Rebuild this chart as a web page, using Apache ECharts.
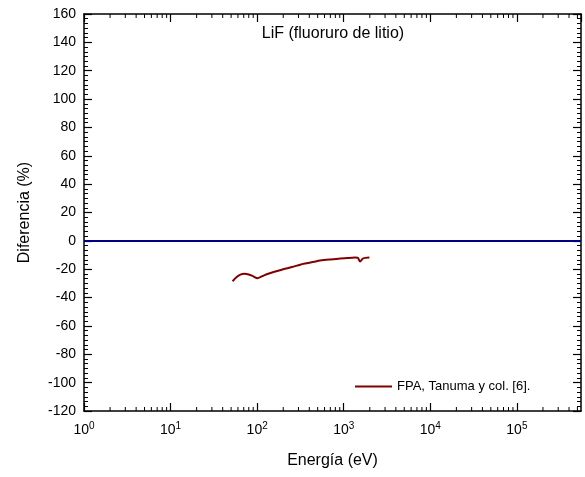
<!DOCTYPE html>
<html>
<head>
<meta charset="utf-8">
<script src="https://cdn.jsdelivr.net/npm/echarts@6/dist/echarts.min.js"></script>
<style>html,body{margin:0;padding:0;background:#fff;}#c{width:585px;height:477px;}</style>
</head>
<body>
<div id="c"></div>
<script>
// Data
const energy = [52, 58, 64, 71, 80, 90, 101, 120, 140, 162, 200, 252, 314, 359, 450, 534, 700, 908, 1100, 1352, 1450, 1545, 1650, 1766, 1978];
const diferencia = [-28.5, -25.5, -23.8, -23.2, -23.7, -25.0, -26.3, -24.3, -22.8, -21.6, -20.0, -18.5, -16.8, -16.0, -14.8, -13.9, -13.1, -12.5, -12.1, -11.8, -11.9, -14.6, -12.6, -12.0, -11.8];
const zeroLineY = 0;
const xMin = 1, xMax = 5.5e5;
const yMin = -120, yMax = 160, yStep = 20;
const xDecades = [0, 1, 2, 3, 4, 5];
const minorMultipliers = [2, 3, 4, 5, 6, 7, 8, 9];

const FONT = 'Liberation Sans, Arial, sans-serif';
const minorVals = [];
xDecades.forEach(d => minorMultipliers.forEach(m => { const v = m * Math.pow(10, d); if (v < xMax) minorVals.push([v]); }));

const chart = echarts.init(document.getElementById('c'), null, {renderer: 'canvas'});
const supLabel = v => { const e = Math.round(Math.log10(v)); return '{b|10}{s|' + e + '}'; };
const rich = { b: {fontSize: 14, fontFamily: FONT, color: '#000'}, s: {fontSize: 10, fontFamily: FONT, color: '#000', padding: [0, 0, 9, 0]} };

chart.setOption({
  animation: false,
  backgroundColor: '#fff',
  title: { text: 'LiF (fluoruro de litio)', left: 328, top: 21, textAlign: 'center',
    textStyle: { fontFamily: FONT, fontSize: 16, fontWeight: 'normal', color: '#000' } },
  legend: { left: 350, top: 375, icon: 'rect', itemWidth: 37, itemHeight: 2, itemGap: 5,
    data: ['FPA, Tanuma y col. [6].'],
    textStyle: { fontFamily: FONT, fontSize: 13, color: '#000' } },
  grid: { left: 84, right: 4, top: 14, bottom: 66 },
  xAxis: [
    { type: 'log', logBase: 10, min: xMin, max: xMax, position: 'bottom',
      name: 'Energía (eV)', nameLocation: 'middle', nameGap: 42,
      nameTextStyle: { fontFamily: FONT, fontSize: 16, color: '#000' },
      axisLine: { onZero: false, lineStyle: { color: '#000', width: 1.5 } },
      axisTick: { inside: true, length: 8, lineStyle: { color: '#000', width: 1.2 } },
      minorTick: { show: false }, splitLine: { show: false },
      axisLabel: { margin: 10, formatter: supLabel, rich: rich, showMaxLabel: false } },
    { type: 'log', logBase: 10, min: xMin, max: xMax, position: 'top',
      axisLine: { onZero: false, lineStyle: { color: '#000', width: 1.5 } },
      axisTick: { inside: true, length: 8, lineStyle: { color: '#000', width: 1.2 } },
      splitLine: { show: false }, axisLabel: { show: false } }
  ],
  yAxis: [
    { type: 'value', min: yMin, max: yMax, interval: yStep, position: 'left',
      name: 'Diferencia (%)', nameLocation: 'middle', nameGap: 51,
      nameTextStyle: { fontFamily: FONT, fontSize: 16, color: '#000' },
      axisLine: { show: true, onZero: false, lineStyle: { color: '#000', width: 1.5 } },
      axisTick: { show: true, inside: true, length: 8, lineStyle: { color: '#000', width: 1.2 } },
      minorTick: { show: true, splitNumber: 6, length: 4, lineStyle: { color: '#000', width: 1 } },
      splitLine: { show: false },
      axisLabel: { fontFamily: FONT, fontSize: 14, color: '#000', margin: 8 } },
    { type: 'value', min: yMin, max: yMax, interval: yStep, position: 'right',
      axisLine: { show: true, onZero: false, lineStyle: { color: '#000', width: 1.5 } },
      axisTick: { show: true, inside: true, length: 8, lineStyle: { color: '#000', width: 1.2 } },
      minorTick: { show: true, splitNumber: 6, length: 4, lineStyle: { color: '#000', width: 1 } },
      splitLine: { show: false }, axisLabel: { show: false } }
  ],
  series: [
    { name: 'zero', type: 'line', data: [], xAxisIndex: 0, yAxisIndex: 0, silent: true,
      markLine: { silent: true, symbol: 'none', label: { show: false },
        lineStyle: { color: '#000080', width: 2, type: 'solid' },
        data: [{ yAxis: zeroLineY }] } },
    { name: 'FPA, Tanuma y col. [6].', type: 'line', xAxisIndex: 0, yAxisIndex: 0,
      data: energy.map((e, i) => [e, diferencia[i]]), symbol: 'none', smooth: 0.3,
      lineStyle: { color: '#800000', width: 2 }, itemStyle: { color: '#800000' } },
    { name: 'minorticks', type: 'custom', xAxisIndex: 0, yAxisIndex: 0, silent: true, clip: false,
      data: minorVals,
      renderItem: function (params, api) {
        const pb = api.coord([api.value(0), yMin]);
        const pt = api.coord([api.value(0), yMax]);
        return { type: 'group', children: [
          { type: 'line', shape: { x1: pb[0], y1: pb[1], x2: pb[0], y2: pb[1] - 4 }, style: { stroke: '#000', lineWidth: 1 } },
          { type: 'line', shape: { x1: pt[0], y1: pt[1], x2: pt[0], y2: pt[1] + 4 }, style: { stroke: '#000', lineWidth: 1 } }
        ] };
      } }
  ]
});
</script>
</body>
</html>
